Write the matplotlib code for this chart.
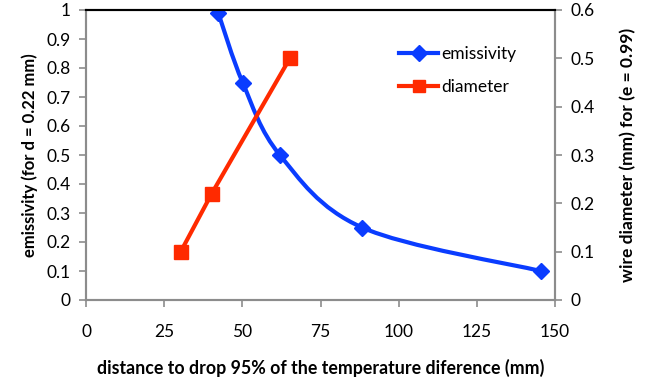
import numpy as np
import matplotlib.pyplot as plt
from matplotlib.path import Path
from matplotlib.patches import PathPatch
from matplotlib.lines import Line2D

plt.rcParams['font.family'] = ['Lato', 'DejaVu Sans']

# data
dist_e = [42.3, 50.1, 62, 88.3, 145.4]
emissivity = [0.99, 0.75, 0.5, 0.25, 0.1]
dist_d = [30.3, 40.2, 65.2]
diameter = [0.1, 0.22, 0.5]

blue = '#0a3cff'
red = '#ff2a00'
grey = '#8c8c8c'


def smooth_path(x, y):
    # Bezier path through the points (Catmull-Rom style, like Excel smoothing)
    x = np.asarray(x, float)
    y = np.asarray(y, float)
    verts = [(x[0], y[0])]
    codes = [Path.MOVETO]
    n = len(x)
    for i in range(n - 1):
        x0, y0 = (x[i - 1], y[i - 1]) if i > 0 else (x[i], y[i])
        x3, y3 = (x[i + 2], y[i + 2]) if i + 2 < n else (x[i + 1], y[i + 1])
        c1 = (x[i] + (x[i + 1] - x0) / 6, y[i] + (y[i + 1] - y0) / 6)
        c2 = (x[i + 1] - (x3 - x[i]) / 6, y[i + 1] - (y3 - y[i]) / 6)
        verts += [c1, c2, (x[i + 1], y[i + 1])]
        codes += [Path.CURVE4] * 3
    return Path(verts, codes)


fig = plt.figure(figsize=(6.48, 3.83), dpi=100)
ax = fig.add_axes([86 / 648, 1 - 300 / 383, 469 / 648, 290 / 383])
ax2 = ax.twinx()

ax.add_patch(PathPatch(smooth_path(dist_e, emissivity), fill=False,
                       edgecolor=blue, lw=3, zorder=3))
ax.plot(dist_e, emissivity, ls='none', marker='D', ms=8, color=blue, zorder=4)
ax2.plot(dist_d, diameter, color=red, lw=3, marker='s', ms=10, zorder=3)

ax.set_xlim(0, 150)
ax.set_ylim(0, 1)
ax2.set_ylim(0, 0.6)
ax.set_xticks(np.arange(0, 151, 25))
ax.set_yticks(np.arange(0, 1.01, 0.1))
ax.set_yticklabels(['0'] + ['%.1f' % v for v in np.arange(0.1, 0.95, 0.1)] + ['1'])
ax2.set_yticks(np.arange(0, 0.61, 0.1))
ax2.set_yticklabels(['0'] + ['%.1f' % v for v in np.arange(0.1, 0.65, 0.1)])

for a in (ax, ax2):
    for s in a.spines.values():
        s.set_color(grey)
        s.set_linewidth(1.5)
    a.spines['top'].set_color('black')
    a.tick_params(length=5, width=1.2, color=grey, labelsize=12.5, pad=6)
ax.tick_params(axis='x', pad=12)

ax.set_xlabel('distance to drop 95% of the temperature diference (mm)',
              fontsize=12.8, fontweight='bold', labelpad=14)
ax.set_ylabel('emissivity (for d = 0.22 mm)', fontsize=12, fontweight='bold', labelpad=6)
ax2.set_ylabel('wire diameter (mm) for (e = 0.99)', fontsize=12.5, fontweight='bold', labelpad=18)

handles = [Line2D([], [], color=blue, lw=3, marker='D', ms=8),
           Line2D([], [], color=red, lw=3, marker='s', ms=9)]
ax.legend(handles, ['emissivity', 'diameter'], loc='upper left',
          bbox_to_anchor=(0.635, 0.93), frameon=False, fontsize=12.5,
          handlelength=2.2, labelspacing=1.0, handletextpad=0.2)

fig.savefig('out.png', dpi=100)
